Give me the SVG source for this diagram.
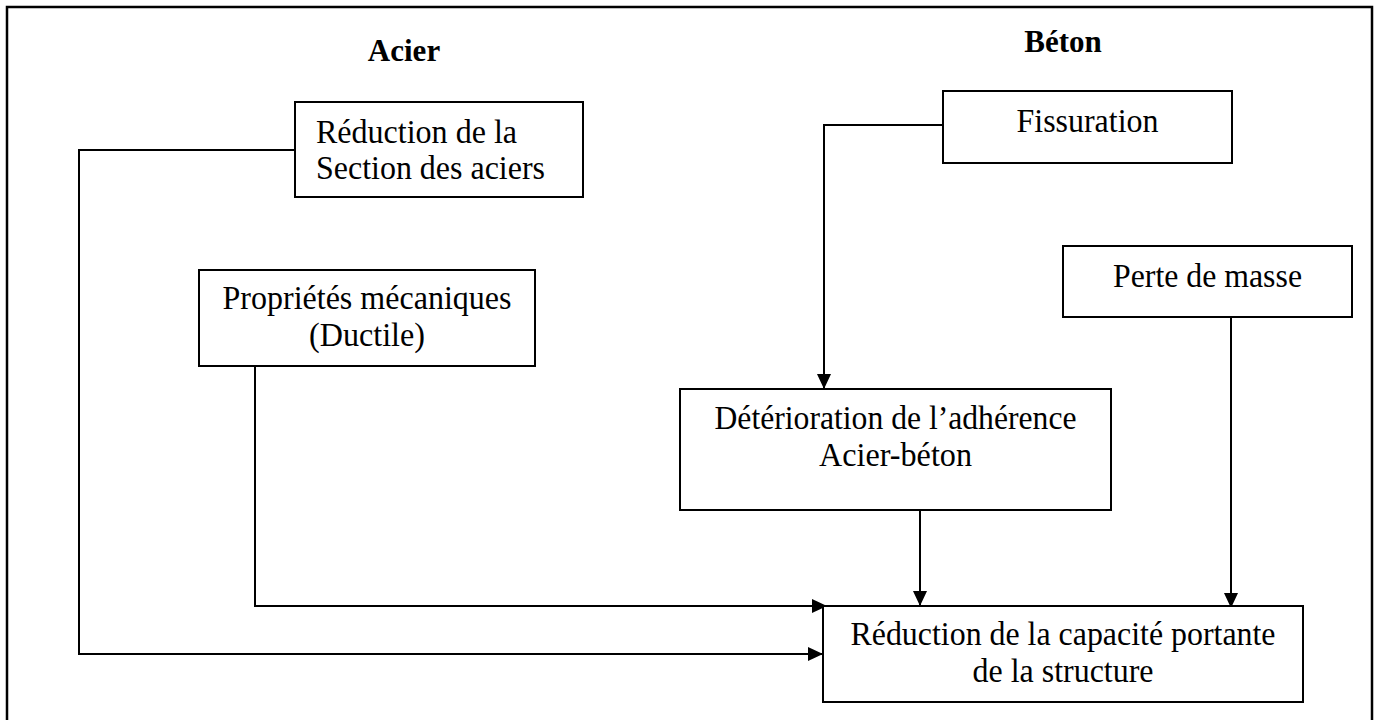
<svg xmlns="http://www.w3.org/2000/svg" width="1381" height="720" viewBox="0 0 1381 720">
  <style>
    .box { fill: #ffffff; stroke: #000000; stroke-width: 2; }
    .link { fill: none; stroke: #000000; stroke-width: 2; }
    .lbl { font-family: "Liberation Serif", "Times New Roman", serif; font-size: 34px; fill: #000000; }
    .head { font-family: "Liberation Serif", "Times New Roman", serif; font-size: 31px; font-weight: bold; fill: #000000; }
    .mid { text-anchor: middle; }
  </style>
  <defs>
    <marker id="arrow" markerUnits="userSpaceOnUse" markerWidth="15" markerHeight="14" refX="15" refY="7" orient="auto">
      <path d="M0,0 L15,7 L0,14 z" fill="#000000"/>
    </marker>
  </defs>

  <rect width="1381" height="720" fill="#ffffff"/>
  <!-- outer frame (bottom edge runs past the page) -->
  <rect x="7" y="7" width="1365" height="730" fill="none" stroke="#000000" stroke-width="2.5"/>

  <!-- column titles -->
  <text class="head mid" x="404" y="61">Acier</text>
  <text class="head mid" x="1063" y="52">Béton</text>

  <!-- connectors -->
  <g id="connectors">
    <path class="link" d="M943,125 H824 V389" marker-end="url(#arrow)"/>
    <path class="link" d="M920,510 V606" marker-end="url(#arrow)"/>
    <path class="link" d="M1231,317 V608" marker-end="url(#arrow)"/>
    <path class="link" d="M255,366 V606 H827" marker-end="url(#arrow)"/>
    <path class="link" d="M295,150 H79 V654 H823" marker-end="url(#arrow)"/>
  </g>

  <g id="reduction-section">
    <rect class="box" x="295" y="102" width="288" height="95"/>
    <text class="lbl" x="316" y="143" textLength="201" lengthAdjust="spacingAndGlyphs">Réduction de la</text>
    <text class="lbl" x="316" y="179" textLength="229" lengthAdjust="spacingAndGlyphs">Section des aciers</text>
  </g>

  <g id="proprietes">
    <rect class="box" x="199" y="270" width="336" height="96"/>
    <text class="lbl mid" x="367" y="309" textLength="289" lengthAdjust="spacingAndGlyphs">Propriétés mécaniques</text>
    <text class="lbl mid" x="367" y="346" textLength="116" lengthAdjust="spacingAndGlyphs">(Ductile)</text>
  </g>

  <g id="fissuration">
    <rect class="box" x="943" y="91" width="289" height="72"/>
    <text class="lbl mid" x="1087.5" y="132" textLength="142" lengthAdjust="spacingAndGlyphs">Fissuration</text>
  </g>

  <g id="perte-masse">
    <rect class="box" x="1063" y="246" width="289" height="71"/>
    <text class="lbl mid" x="1207.5" y="287" textLength="189" lengthAdjust="spacingAndGlyphs">Perte de masse</text>
  </g>

  <g id="deterioration">
    <rect class="box" x="680" y="389" width="431" height="121"/>
    <text class="lbl mid" x="895.5" y="429" textLength="362" lengthAdjust="spacingAndGlyphs">Détérioration de l’adhérence</text>
    <text class="lbl mid" x="895.5" y="466" textLength="153" lengthAdjust="spacingAndGlyphs">Acier-béton</text>
  </g>

  <g id="reduction-capacite">
    <rect class="box" x="823" y="606" width="480" height="96"/>
    <text class="lbl mid" x="1063" y="645" textLength="425" lengthAdjust="spacingAndGlyphs">Réduction de la capacité portante</text>
    <text class="lbl mid" x="1063" y="682" textLength="181" lengthAdjust="spacingAndGlyphs">de la structure</text>
  </g>
</svg>
